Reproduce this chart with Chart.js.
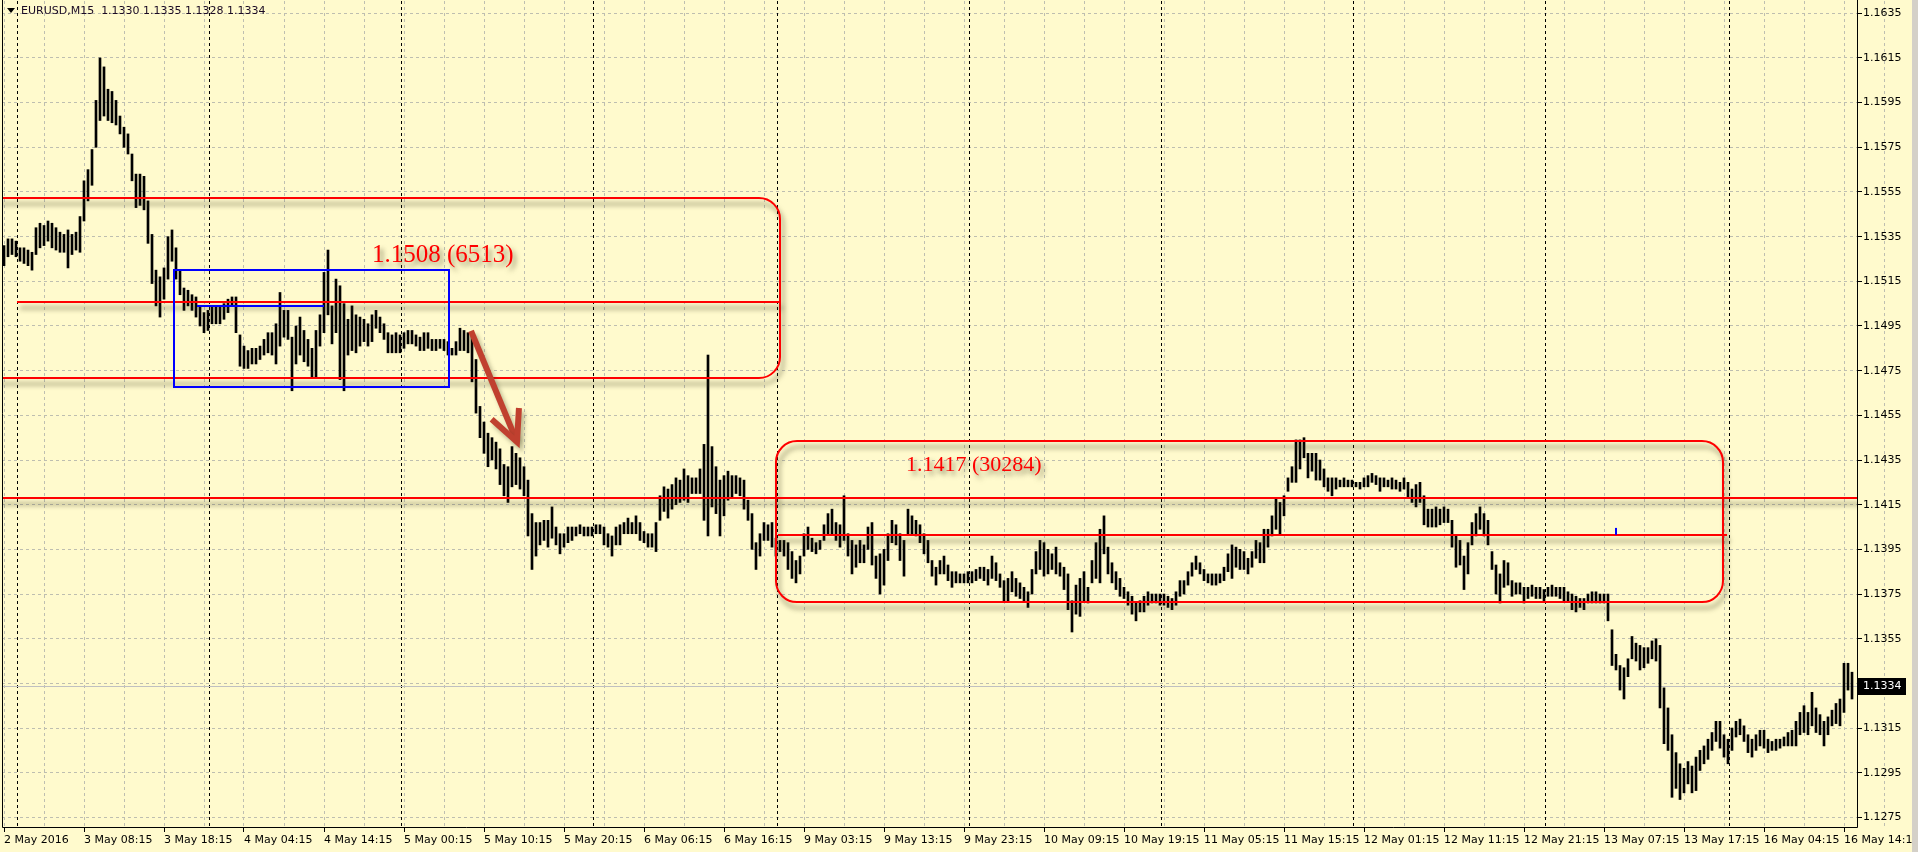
<!DOCTYPE html>
<html>
<head>
<meta charset="utf-8">
<script src="https://cdn.jsdelivr.net/npm/chart.js@4"></script>
<style>
    html, body { margin: 0; padding: 0; background: #FFFACD; overflow: hidden; }
    #chart { display: block; }
</style>
</head>
<body>
<canvas id="chart" width="1918" height="852"></canvas>
<script>
// EURUSD M15, each entry = two 15 min bars (high / low)
const symbolTitle = 'EURUSD,M15  1.1330 1.1335 1.1328 1.1334';
const lastPrice = 1.1334;

const timeLabels = ['2 May 2016', '3 May 08:15', '3 May 18:15', '4 May 04:15', '4 May 14:15', '5 May 00:15',
    '5 May 10:15', '5 May 20:15', '6 May 06:15', '6 May 16:15', '9 May 03:15', '9 May 13:15', '9 May 23:15',
    '10 May 09:15', '10 May 19:15', '11 May 05:15', '11 May 15:15', '12 May 01:15', '12 May 11:15',
    '12 May 21:15', '13 May 07:15', '13 May 17:15', '16 May 04:15', '16 May 14:15'];

const priceTicks = [1.1275, 1.1295, 1.1315, 1.1335, 1.1355, 1.1375, 1.1395, 1.1415, 1.1435, 1.1455,
    1.1475, 1.1495, 1.1515, 1.1535, 1.1555, 1.1575, 1.1595, 1.1615, 1.1635];

// first bar of each trading day (in entry units)
const daySeparators = [3.25, 51.25, 99.25, 147.25, 193.25, 241.25, 289.25, 337.25, 385.25, 431.25];

const highs = [
    1.1531, 1.1534, 1.1534, 1.1533, 1.1530, 1.1530, 1.1529, 1.1528, 1.1539, 1.1541,
    1.1540, 1.1542, 1.1541, 1.1539, 1.1537, 1.1536, 1.1538, 1.1536, 1.1537, 1.1544,
    1.1560, 1.1565, 1.1574, 1.1596, 1.1615, 1.1611, 1.1601, 1.1600, 1.1596, 1.1589,
    1.1584, 1.1581, 1.1572, 1.1563, 1.1563, 1.1562, 1.1551, 1.1536, 1.1520, 1.1517,
    1.1521, 1.1535, 1.1538, 1.1530, 1.1520, 1.1512, 1.1511, 1.1509, 1.1508, 1.1504,
    1.1501, 1.1502, 1.1504, 1.1504, 1.1504, 1.1505, 1.1507, 1.1508, 1.1508, 1.1491,
    1.1486, 1.1484, 1.1485, 1.1485, 1.1486, 1.1489, 1.1492, 1.1492, 1.1496, 1.1510,
    1.1502, 1.1502, 1.1490, 1.1495, 1.1499, 1.1493, 1.1489, 1.1485, 1.1493, 1.1500,
    1.1519, 1.1529, 1.1504, 1.1516, 1.1513, 1.1505, 1.1498, 1.1504, 1.1500, 1.1499,
    1.1498, 1.1496, 1.1500, 1.1502, 1.1499, 1.1496, 1.1492, 1.1491, 1.1492, 1.1491,
    1.1492, 1.1493, 1.1493, 1.1491, 1.1490, 1.1492, 1.1492, 1.1489, 1.1489, 1.1489,
    1.1489, 1.1488, 1.1485, 1.1488, 1.1494, 1.1493, 1.1492, 1.1491, 1.1480, 1.1459,
    1.1452, 1.1447, 1.1445, 1.1443, 1.1440, 1.1433, 1.1432, 1.1441, 1.1438, 1.1436,
    1.1432, 1.1426, 1.1411, 1.1407, 1.1407, 1.1408, 1.1408, 1.1414, 1.1405, 1.1402,
    1.1402, 1.1405, 1.1405, 1.1405, 1.1406, 1.1405, 1.1405, 1.1405, 1.1406, 1.1406,
    1.1405, 1.1402, 1.1401, 1.1405, 1.1406, 1.1407, 1.1409, 1.1407, 1.1410, 1.1407,
    1.1403, 1.1402, 1.1402, 1.1407, 1.1419, 1.1423, 1.1422, 1.1424, 1.1427, 1.1426,
    1.1431, 1.1428, 1.1427, 1.1427, 1.1431, 1.1442, 1.1482, 1.1441, 1.1432, 1.1426,
    1.1428, 1.1430, 1.1428, 1.1428, 1.1427, 1.1426, 1.1417, 1.1411, 1.1398, 1.1402,
    1.1407, 1.1406, 1.1407, 1.1400, 1.1399, 1.1399, 1.1398, 1.1394, 1.1390, 1.1392,
    1.1402, 1.1405, 1.1400, 1.1398, 1.1399, 1.1406, 1.1411, 1.1413, 1.1407, 1.1406,
    1.1419, 1.1402, 1.1399, 1.1397, 1.1399, 1.1397, 1.1405, 1.1407, 1.1392, 1.1393,
    1.1395, 1.1402, 1.1408, 1.1406, 1.1402, 1.1399, 1.1413, 1.1410, 1.1408, 1.1406,
    1.1402, 1.1399, 1.1390, 1.1387, 1.1390, 1.1392, 1.1388, 1.1385, 1.1385, 1.1384,
    1.1384, 1.1385, 1.1385, 1.1386, 1.1387, 1.1387, 1.1386, 1.1392, 1.1389, 1.1384,
    1.1381, 1.1382, 1.1385, 1.1382, 1.1380, 1.1378, 1.1376, 1.1386, 1.1394, 1.1399,
    1.1398, 1.1395, 1.1393, 1.1396, 1.1389, 1.1387, 1.1384, 1.1372, 1.1379, 1.1382,
    1.1385, 1.1378, 1.1390, 1.1398, 1.1404, 1.1410, 1.1396, 1.1389, 1.1385, 1.1382,
    1.1378, 1.1376, 1.1374, 1.1371, 1.1372, 1.1374, 1.1376, 1.1375, 1.1375, 1.1375,
    1.1375, 1.1374, 1.1373, 1.1376, 1.1381, 1.1381, 1.1385, 1.1389, 1.1392, 1.1389,
    1.1386, 1.1384, 1.1384, 1.1384, 1.1384, 1.1387, 1.1393, 1.1397, 1.1396, 1.1395,
    1.1394, 1.1391, 1.1394, 1.1399, 1.1398, 1.1404, 1.1404, 1.1410, 1.1418, 1.1416,
    1.1419, 1.1427, 1.1432, 1.1444, 1.1444, 1.1445, 1.1438, 1.1438, 1.1438, 1.1435,
    1.1431, 1.1427, 1.1427, 1.1427, 1.1426, 1.1427, 1.1426, 1.1426, 1.1425, 1.1425,
    1.1427, 1.1428, 1.1429, 1.1428, 1.1427, 1.1427, 1.1426, 1.1427, 1.1426, 1.1425,
    1.1427, 1.1425, 1.1422, 1.1424, 1.1425, 1.1419, 1.1413, 1.1413, 1.1414, 1.1413,
    1.1414, 1.1413, 1.1408, 1.1401, 1.1399, 1.1392, 1.1398, 1.1407, 1.1411, 1.1414,
    1.1411, 1.1408, 1.1394, 1.1388, 1.1384, 1.1390, 1.1389, 1.1381, 1.1380, 1.1380,
    1.1378, 1.1378, 1.1379, 1.1378, 1.1378, 1.1377, 1.1378, 1.1379, 1.1378, 1.1378,
    1.1378, 1.1376, 1.1375, 1.1374, 1.1373, 1.1373, 1.1375, 1.1376, 1.1376, 1.1375,
    1.1375, 1.1375, 1.1359, 1.1348, 1.1343, 1.1342, 1.1346, 1.1356, 1.1353, 1.1352,
    1.1351, 1.1351, 1.1354, 1.1355, 1.1352, 1.1333, 1.1324, 1.1312, 1.1304, 1.1299,
    1.1297, 1.1300, 1.1298, 1.1302, 1.1305, 1.1307, 1.1310, 1.1313, 1.1318, 1.1318,
    1.1312, 1.1310, 1.1315, 1.1318, 1.1319, 1.1316, 1.1312, 1.1310, 1.1312, 1.1314,
    1.1314, 1.1310, 1.1309, 1.1310, 1.1310, 1.1311, 1.1313, 1.1314, 1.1318, 1.1322,
    1.1325, 1.1322, 1.1331, 1.1324, 1.1321, 1.1318, 1.1320, 1.1323, 1.1326, 1.1328,
    1.1344, 1.1344, 1.1340
];

const lows = [
    1.1522, 1.1526, 1.1527, 1.1526, 1.1524, 1.1523, 1.1522, 1.1520, 1.1527, 1.1530,
    1.1531, 1.1533, 1.1530, 1.1529, 1.1528, 1.1528, 1.1521, 1.1527, 1.1529, 1.1528,
    1.1542, 1.1551, 1.1558, 1.1575, 1.1587, 1.1589, 1.1587, 1.1586, 1.1585, 1.1581,
    1.1575, 1.1572, 1.1560, 1.1548, 1.1549, 1.1547, 1.1532, 1.1514, 1.1504, 1.1499,
    1.1507, 1.1516, 1.1524, 1.1516, 1.1509, 1.1502, 1.1504, 1.1502, 1.1499, 1.1495,
    1.1492, 1.1493, 1.1496, 1.1496, 1.1496, 1.1498, 1.1501, 1.1504, 1.1492, 1.1477,
    1.1476, 1.1476, 1.1478, 1.1478, 1.1480, 1.1482, 1.1483, 1.1482, 1.1478, 1.1486,
    1.1490, 1.1489, 1.1466, 1.1478, 1.1482, 1.1479, 1.1477, 1.1472, 1.1472, 1.1486,
    1.1492, 1.1500, 1.1487, 1.1492, 1.1471, 1.1466, 1.1482, 1.1484, 1.1483, 1.1486,
    1.1488, 1.1486, 1.1488, 1.1494, 1.1492, 1.1489, 1.1483, 1.1483, 1.1483, 1.1483,
    1.1485, 1.1487, 1.1487, 1.1486, 1.1484, 1.1484, 1.1485, 1.1484, 1.1484, 1.1485,
    1.1484, 1.1482, 1.1482, 1.1482, 1.1484, 1.1484, 1.1483, 1.1470, 1.1456, 1.1445,
    1.1438, 1.1432, 1.1435, 1.1431, 1.1424, 1.1419, 1.1416, 1.1423, 1.1424, 1.1422,
    1.1419, 1.1401, 1.1386, 1.1392, 1.1397, 1.1399, 1.1396, 1.1400, 1.1397, 1.1393,
    1.1396, 1.1398, 1.1399, 1.1401, 1.1402, 1.1401, 1.1401, 1.1401, 1.1402, 1.1402,
    1.1397, 1.1396, 1.1392, 1.1397, 1.1397, 1.1402, 1.1402, 1.1402, 1.1402, 1.1399,
    1.1398, 1.1396, 1.1396, 1.1394, 1.1408, 1.1412, 1.1409, 1.1413, 1.1415, 1.1416,
    1.1417, 1.1416, 1.1420, 1.1420, 1.1420, 1.1408, 1.1401, 1.1414, 1.1411, 1.1401,
    1.1410, 1.1417, 1.1418, 1.1420, 1.1419, 1.1413, 1.1408, 1.1395, 1.1386, 1.1392,
    1.1399, 1.1399, 1.1396, 1.1392, 1.1394, 1.1392, 1.1386, 1.1382, 1.1380, 1.1384,
    1.1392, 1.1395, 1.1394, 1.1393, 1.1395, 1.1399, 1.1402, 1.1402, 1.1399, 1.1396,
    1.1399, 1.1392, 1.1384, 1.1387, 1.1389, 1.1389, 1.1395, 1.1388, 1.1382, 1.1375,
    1.1379, 1.1390, 1.1398, 1.1397, 1.1390, 1.1383, 1.1402, 1.1402, 1.1401, 1.1398,
    1.1393, 1.1389, 1.1383, 1.1379, 1.1384, 1.1384, 1.1381, 1.1378, 1.1380, 1.1380,
    1.1380, 1.1380, 1.1380, 1.1381, 1.1382, 1.1381, 1.1379, 1.1382, 1.1381, 1.1378,
    1.1372, 1.1372, 1.1376, 1.1374, 1.1373, 1.1372, 1.1369, 1.1375, 1.1384, 1.1386,
    1.1383, 1.1384, 1.1386, 1.1384, 1.1383, 1.1377, 1.1368, 1.1358, 1.1366, 1.1365,
    1.1372, 1.1371, 1.1380, 1.1382, 1.1380, 1.1393, 1.1384, 1.1380, 1.1377, 1.1374,
    1.1373, 1.1370, 1.1366, 1.1363, 1.1367, 1.1367, 1.1370, 1.1371, 1.1371, 1.1370,
    1.1370, 1.1369, 1.1368, 1.1370, 1.1374, 1.1375, 1.1379, 1.1383, 1.1386, 1.1384,
    1.1381, 1.1380, 1.1379, 1.1379, 1.1380, 1.1381, 1.1385, 1.1382, 1.1387, 1.1386,
    1.1386, 1.1384, 1.1387, 1.1391, 1.1389, 1.1389, 1.1396, 1.1401, 1.1404, 1.1402,
    1.1410, 1.1421, 1.1425, 1.1425, 1.1431, 1.1436, 1.1427, 1.1430, 1.1426, 1.1426,
    1.1423, 1.1421, 1.1419, 1.1422, 1.1423, 1.1423, 1.1423, 1.1423, 1.1423, 1.1422,
    1.1423, 1.1423, 1.1425, 1.1424, 1.1421, 1.1423, 1.1423, 1.1422, 1.1422, 1.1421,
    1.1422, 1.1418, 1.1416, 1.1414, 1.1416, 1.1406, 1.1405, 1.1405, 1.1405, 1.1406,
    1.1407, 1.1407, 1.1396, 1.1387, 1.1388, 1.1377, 1.1384, 1.1397, 1.1401, 1.1404,
    1.1401, 1.1397, 1.1386, 1.1375, 1.1371, 1.1378, 1.1379, 1.1374, 1.1375, 1.1375,
    1.1371, 1.1373, 1.1374, 1.1373, 1.1373, 1.1372, 1.1374, 1.1374, 1.1374, 1.1373,
    1.1372, 1.1372, 1.1368, 1.1367, 1.1369, 1.1368, 1.1371, 1.1371, 1.1371, 1.1371,
    1.1371, 1.1363, 1.1343, 1.1341, 1.1332, 1.1328, 1.1338, 1.1346, 1.1345, 1.1341,
    1.1342, 1.1344, 1.1346, 1.1345, 1.1324, 1.1308, 1.1305, 1.1284, 1.1288, 1.1283,
    1.1286, 1.1290, 1.1286, 1.1287, 1.1296, 1.1299, 1.1301, 1.1305, 1.1309, 1.1306,
    1.1302, 1.1299, 1.1305, 1.1311, 1.1312, 1.1309, 1.1304, 1.1302, 1.1305, 1.1307,
    1.1306, 1.1304, 1.1305, 1.1305, 1.1306, 1.1307, 1.1307, 1.1307, 1.1307, 1.1312,
    1.1313, 1.1312, 1.1316, 1.1313, 1.1312, 1.1307, 1.1312, 1.1316, 1.1317, 1.1316,
    1.1322, 1.1332, 1.1328
];

// drawn objects (x in entry units, y in price)
const zones = [
    { from: -8, to: 194, top: 1.15523, bottom: 1.14717 },
    { from: 193, to: 429.75, top: 1.14435, bottom: 1.13714 }
];
const levels = [
    { from: 3.25, to: 194, price: 1.15057 },
    { from: -2, to: 464, price: 1.14180 },
    { from: 193.5, to: 430.75, price: 1.14014 }
];
const levelTexts = [
    { at: 92, price: 1.15237, text: '1.1508 (6513)', size: 25 },
    { at: 225.5, price: 1.14301, text: '1.1417 (30284)', size: 22 }
];
const blueBox = { from: 42.5, to: 111.25, top: 1.15201, bottom: 1.14677 };
const blueSegment = { from: 48.25, to: 80, price: 1.15040 };
const arrow = { from: [116.75, 1.14928], to: [128.25, 1.14431] };
const blueMark = { at: 403, top: 1.14046, bottom: 1.14015 };

const bars = highs.map((h, i) => ({ x: i, y: [lows[i], h] }));

Chart.defaults.font.family = 'DejaVu Sans';
Chart.defaults.font.size = 11;

function roundRectPath(ctx, x0, y0, x1, y1, r) {
    ctx.beginPath();
    ctx.moveTo(x0 + r, y0);
    ctx.lineTo(x1 - r, y0);
    ctx.arcTo(x1, y0, x1, y0 + r, r);
    ctx.lineTo(x1, y1 - r);
    ctx.arcTo(x1, y1, x1 - r, y1, r);
    ctx.lineTo(x0 + r, y1);
    ctx.arcTo(x0, y1, x0, y1 - r, r);
    ctx.lineTo(x0, y0 + r);
    ctx.arcTo(x0, y0, x0 + r, y0, r);
    ctx.closePath();
}

function shadowOn(ctx) {
    ctx.shadowColor = 'rgba(60, 60, 30, 0.6)';
    ctx.shadowBlur = 5;
    ctx.shadowOffsetX = 3;
    ctx.shadowOffsetY = 6;
}

const terminal = {
    id: 'terminal',
    beforeDraw(chart) {
        const ctx = chart.ctx;
        ctx.save();
        ctx.fillStyle = '#FFFACD';
        ctx.fillRect(0, 0, chart.width, chart.height);
        ctx.restore();
    },
    beforeDatasetsDraw(chart) {
        const { ctx, chartArea: a, scales: { x, y } } = chart;
        ctx.save();
        ctx.lineWidth = 1;
        ctx.strokeStyle = '#000';
        ctx.setLineDash([3, 3]);
        daySeparators.forEach(v => {
            const px = Math.round(x.getPixelForValue(v)) + 0.5;
            ctx.beginPath();
            ctx.moveTo(px, a.top);
            ctx.lineTo(px, a.bottom);
            ctx.stroke();
        });
        ctx.setLineDash([]);
        ctx.strokeStyle = '#C0C0C0';
        const py = Math.round(y.getPixelForValue(lastPrice)) + 0.5;
        ctx.beginPath();
        ctx.moveTo(a.left, py);
        ctx.lineTo(a.right, py);
        ctx.stroke();
        ctx.restore();
    },
    afterDatasetsDraw(chart) {
        const { ctx, chartArea: a, scales: { x, y } } = chart;
        ctx.save();
        ctx.beginPath();
        ctx.rect(a.left, a.top, a.right - a.left, a.bottom - a.top);
        ctx.clip();

        // red zones and levels
        ctx.save();
        shadowOn(ctx);
        ctx.strokeStyle = '#FF0000';
        ctx.lineWidth = 2;
        zones.forEach(z => {
            roundRectPath(ctx, x.getPixelForValue(z.from), y.getPixelForValue(z.top),
                x.getPixelForValue(z.to), y.getPixelForValue(z.bottom), 21);
            ctx.stroke();
        });
        levels.forEach(l => {
            const py = Math.round(y.getPixelForValue(l.price));
            ctx.beginPath();
            ctx.moveTo(x.getPixelForValue(l.from), py);
            ctx.lineTo(x.getPixelForValue(l.to), py);
            ctx.stroke();
        });
        ctx.fillStyle = '#FF0000';
        ctx.textBaseline = 'alphabetic';
        ctx.shadowOffsetY = 4;
        levelTexts.forEach(t => {
            ctx.font = t.size + 'px "Liberation Serif"';
            ctx.fillText(t.text, x.getPixelForValue(t.at), y.getPixelForValue(t.price));
        });
        ctx.restore();

        // blue box and segment
        ctx.strokeStyle = '#0000FF';
        ctx.lineWidth = 2;
        const bx0 = Math.round(x.getPixelForValue(blueBox.from));
        const bx1 = Math.round(x.getPixelForValue(blueBox.to));
        const by0 = Math.round(y.getPixelForValue(blueBox.top));
        const by1 = Math.round(y.getPixelForValue(blueBox.bottom));
        ctx.strokeRect(bx0, by0, bx1 - bx0, by1 - by0);
        const sy = Math.round(y.getPixelForValue(blueSegment.price));
        ctx.beginPath();
        ctx.moveTo(x.getPixelForValue(blueSegment.from), sy);
        ctx.lineTo(x.getPixelForValue(blueSegment.to), sy);
        ctx.stroke();
        ctx.fillStyle = '#0000FF';
        const mx = Math.round(x.getPixelForValue(blueMark.at));
        const my0 = y.getPixelForValue(blueMark.top);
        ctx.fillRect(mx - 1, my0, 2, y.getPixelForValue(blueMark.bottom) - my0);

        // arrow
        const ax0 = x.getPixelForValue(arrow.from[0]), ay0 = y.getPixelForValue(arrow.from[1]);
        const ax1 = x.getPixelForValue(arrow.to[0]), ay1 = y.getPixelForValue(arrow.to[1]);
        const ang = Math.atan2(ay1 - ay0, ax1 - ax0);
        const head = 34, spread = 0.45;
        ctx.shadowColor = 'rgba(60, 60, 30, 0.35)';
        ctx.shadowBlur = 4;
        ctx.shadowOffsetX = 3;
        ctx.shadowOffsetY = 4;
        ctx.strokeStyle = '#C0402F';
        ctx.lineWidth = 6;
        ctx.lineJoin = 'miter';
        ctx.beginPath();
        ctx.moveTo(ax0, ay0);
        ctx.lineTo(ax1 - 3 * Math.cos(ang), ay1 - 3 * Math.sin(ang));
        ctx.stroke();
        ctx.beginPath();
        ctx.moveTo(ax1 - head * Math.cos(ang - spread), ay1 - head * Math.sin(ang - spread));
        ctx.lineTo(ax1, ay1);
        ctx.lineTo(ax1 - head * Math.cos(ang + spread), ay1 - head * Math.sin(ang + spread));
        ctx.stroke();
        ctx.restore();
    },
    afterDraw(chart) {
        const { ctx, chartArea: a, scales: { y } } = chart;
        ctx.save();
        // frame
        ctx.strokeStyle = '#000';
        ctx.lineWidth = 1;
        ctx.beginPath();
        ctx.moveTo(a.left + 0.5, 0);
        ctx.lineTo(a.left + 0.5, a.bottom + 0.5);
        ctx.lineTo(a.right + 0.5, a.bottom + 0.5);
        ctx.lineTo(a.right + 0.5, 0);
        ctx.stroke();

        // last price box
        const py = Math.round(y.getPixelForValue(lastPrice));
        ctx.fillStyle = '#000';
        ctx.fillRect(a.right + 1, py - 8, 48, 17);
        ctx.fillStyle = '#FFF';
        ctx.font = '11px "DejaVu Sans"';
        ctx.textBaseline = 'middle';
        ctx.fillText(lastPrice.toFixed(4), a.right + 6, py + 0.5);

        // title
        ctx.fillStyle = '#000';
        ctx.beginPath();
        ctx.moveTo(7, 8);
        ctx.lineTo(15, 8);
        ctx.lineTo(11, 13);
        ctx.closePath();
        ctx.fill();
        ctx.fillStyle = '#1A0A24';
        ctx.fillText(symbolTitle, 21, 11);

        // window edge
        ctx.fillStyle = '#D4D0C8';
        ctx.fillRect(1912, 0, 6, chart.height);
        ctx.restore();
    }
};

new Chart(document.getElementById('chart'), {
    type: 'bar',
    data: {
        datasets: [{
            data: bars,
            backgroundColor: '#000',
            borderWidth: 0,
            barThickness: 2
        }]
    },
    options: {
        responsive: false,
        animation: false,
        events: [],
        layout: { padding: { left: 2, top: 1, right: 0, bottom: 0 } },
        plugins: { legend: { display: false }, tooltip: { enabled: false } },
        scales: {
            x: {
                type: 'linear',
                min: -0.5,
                max: 463.25,
                offset: false,
                afterBuildTicks: s => {
                    s.ticks = [];
                    for (let v = 0; v < timeLabels.length * 20; v += 10) s.ticks.push({ value: v });
                },
                afterFit: s => { s.height = 25; s.paddingLeft = 0; s.paddingRight = 0; },
                ticks: {
                    autoSkip: false,
                    maxRotation: 0,
                    minRotation: 0,
                    align: 'start',
                    padding: 2,
                    color: '#000',
                    callback: v => (v % 20 === 0 ? timeLabels[v / 20] : '')
                },
                grid: {
                    offset: false,
                    color: '#BEBEB0',
                    tickLength: 5,
                    tickBorderDash: [],
                    tickColor: c => (c.tick && c.tick.value % 20 === 0 ? '#000' : 'rgba(0,0,0,0)')
                },
                border: { display: false, dash: [3, 3] }
            },
            y: {
                position: 'right',
                min: 1.12707,
                max: 1.16405,
                afterBuildTicks: s => { s.ticks = priceTicks.map(v => ({ value: v })); },
                afterFit: s => { s.width = 61; s.paddingTop = 0; s.paddingBottom = 0; },
                ticks: {
                    autoSkip: false,
                    padding: 1,
                    color: '#000',
                    callback: v => v.toFixed(4)
                },
                grid: {
                    color: '#BEBEB0',
                    tickLength: 5,
                    tickBorderDash: [],
                    tickColor: '#000'
                },
                border: { display: false, dash: [3, 3] }
            }
        }
    },
    plugins: [terminal]
});
</script>
</body>
</html>
